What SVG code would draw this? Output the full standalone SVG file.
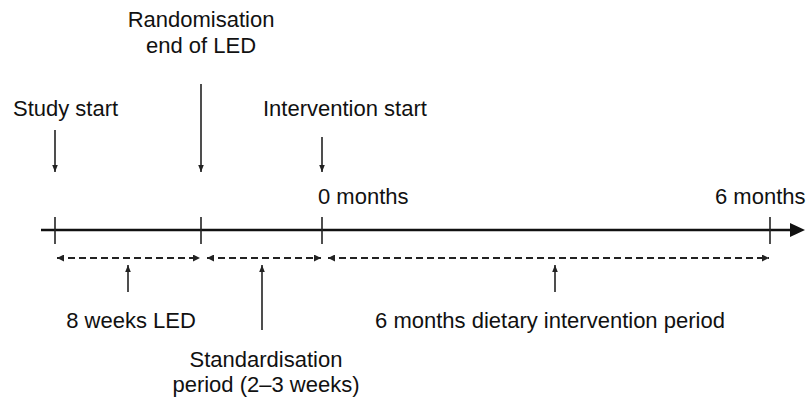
<svg xmlns="http://www.w3.org/2000/svg" width="811" height="397" viewBox="0 0 811 397">
<defs>
<style>
text{font-family:"Liberation Sans",Arial,sans-serif;font-size:22px;fill:#111}
.ax{stroke:#111;stroke-width:2.5;fill:none}
.tk{stroke:#222;stroke-width:1.6;fill:none}
.ar{stroke:#222;stroke-width:1.6;fill:none}
.ds{stroke:#222;stroke-width:2;stroke-dasharray:7 4;fill:none}
</style>
<marker id="ah" viewBox="0 0 10 10" refX="10" refY="5" markerWidth="7" markerHeight="7" orient="auto-start-reverse" markerUnits="userSpaceOnUse">
<path d="M0,0 L10,5 L0,10 z" fill="#222"/>
</marker>
<marker id="ahs" viewBox="0 0 10 10" refX="10" refY="5" markerWidth="7" markerHeight="7" orient="auto" markerUnits="userSpaceOnUse">
<path d="M0,1 L10,5 L0,9 z" fill="#222"/>
</marker>
</defs>
<rect width="811" height="397" fill="#fff"/>
<g id="connectors">
<line class="ax" x1="41" y1="230" x2="792" y2="230"/>
<path d="M790,223 L805,230 L790,237 z" fill="#111"/>
<line class="tk" x1="55" y1="217" x2="55" y2="244"/>
<line class="tk" x1="201" y1="217" x2="201" y2="244"/>
<line class="tk" x1="322" y1="217" x2="322" y2="244"/>
<line class="tk" x1="770" y1="217" x2="770" y2="244"/>
<line class="ar" x1="55" y1="130" x2="55" y2="172" marker-end="url(#ahs)"/>
<line class="ar" x1="201" y1="84" x2="201" y2="172" marker-end="url(#ahs)"/>
<line class="ar" x1="322" y1="137" x2="322" y2="172" marker-end="url(#ahs)"/>
<line class="ds" x1="57" y1="258" x2="200" y2="258" marker-start="url(#ah)" marker-end="url(#ah)"/>
<line class="ds" x1="207" y1="258" x2="321" y2="258" marker-start="url(#ah)" marker-end="url(#ah)"/>
<line class="ds" x1="328" y1="258" x2="769" y2="258" marker-start="url(#ah)" marker-end="url(#ah)"/>
<line class="ar" x1="128" y1="292" x2="128" y2="265" marker-end="url(#ahs)"/>
<line class="ar" x1="262" y1="330" x2="262" y2="265" marker-end="url(#ahs)"/>
<line class="ar" x1="555" y1="292" x2="555" y2="265" marker-end="url(#ahs)"/>
</g>
<g id="study-start"><text x="13" y="116">Study start</text></g>
<g id="randomisation"><text x="201" y="26.5" text-anchor="middle">Randomisation</text><text x="201" y="52.5" text-anchor="middle">end of LED</text></g>
<g id="intervention-start"><text x="263" y="116">Intervention start</text></g>
<g id="zero-months"><text x="318" y="204">0 months</text></g>
<g id="six-months"><text x="715" y="204">6 months</text></g>
<g id="led"><text x="131" y="328" text-anchor="middle">8 weeks LED</text></g>
<g id="standardisation"><text x="266" y="367" text-anchor="middle">Standardisation</text><text x="266" y="392" text-anchor="middle">period (2–3 weeks)</text></g>
<g id="dietary"><text x="550" y="328" text-anchor="middle" font-size="22.5">6 months dietary intervention period</text></g>
</svg>
